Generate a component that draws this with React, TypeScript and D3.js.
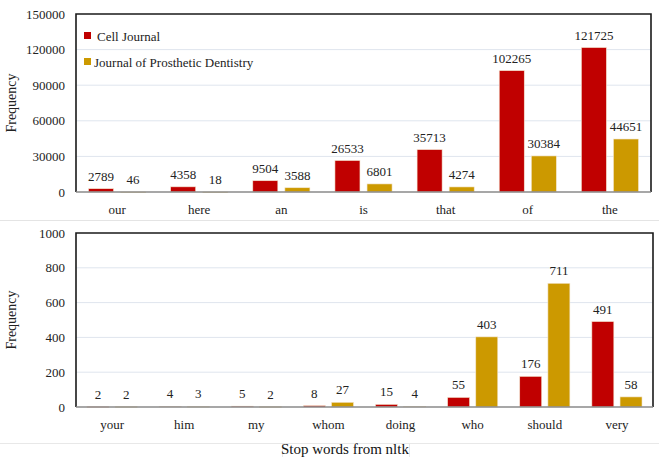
import * as React from "react";
import * as d3 from "d3";

// top panel
const topWords = ["our", "here", "an", "is", "that", "of", "the"];
const topCell = [2789, 4358, 9504, 26533, 35713, 102265, 121725];
const topDent = [46, 18, 3588, 6801, 4274, 30384, 44651];
const topTicks = [0, 30000, 60000, 90000, 120000, 150000];

// bottom panel
const botWords = ["your", "him", "my", "whom", "doing", "who", "should", "very"];
const botCell = [2, 4, 5, 8, 15, 55, 176, 491];
const botDent = [2, 3, 2, 27, 4, 403, 711, 58];
const botTicks = [0, 200, 400, 600, 800, 1000];

const seriesNames = ["Cell Journal", "Journal of Prosthetic Dentistry"];
const colors = ["#c00000", "#cc9900"];

const FONT = "'Liberation Serif', 'Times New Roman', serif";

interface PanelProps {
    words: string[];
    a: number[];
    b: number[];
    ticks: number[];
    left: number;
    top: number;
    right: number;
    bottom: number;
    legend?: boolean;
}

function Panel(props: PanelProps) {
    const { words, a, b, ticks, left, top, right, bottom, legend } = props;
    const x = d3.scaleBand<string>().domain(words).range([left, right]).padding(0);
    const xs = d3.scaleBand<string>().domain(["a", "b"]).range([0, x.bandwidth()])
        .paddingInner(0.22).paddingOuter(0.39);
    const y = d3.scaleLinear().domain([0, ticks[ticks.length - 1]]).range([bottom, top]);

    const bars: any[] = [];
    words.forEach((w, i) => {
        [a[i], b[i]].forEach((v, k) => {
            const bx = (x(w) as number) + (xs(k === 0 ? "a" : "b") as number);
            bars.push({ key: w + k, x: bx, y: y(v), h: y(0) - y(v), v, k });
        });
    });

    return (
        <g>
            {ticks.slice(1, -1).map(t => (
                <line key={"g" + t} x1={left} x2={right} y1={y(t)} y2={y(t)} stroke="#dfe5ee" strokeWidth={1} />
            ))}
            {ticks.map(t => (
                <text key={"t" + t} x={left - 11} y={y(t)} dy="0.35em" textAnchor="end" fontSize={13} fontFamily={FONT} fill="#222">{t}</text>
            ))}
            {bars.map(d => (
                <rect key={d.key} x={d.x} y={d.y} width={xs.bandwidth()} height={Math.max(d.h, 0.6)}
                    fill={colors[d.k]} stroke="#f3e6d0" strokeWidth={0.6} />
            ))}
            {bars.map(d => (
                <text key={"l" + d.key} x={d.x + xs.bandwidth() / 2} y={d.y - 8} textAnchor="middle"
                    fontSize={13} fontFamily={FONT} fill="#222">{d.v}</text>
            ))}
            {words.map(w => (
                <text key={"x" + w} x={(x(w) as number) + x.bandwidth() / 2} y={bottom + 22} textAnchor="middle"
                    fontSize={13} fontFamily={FONT} fill="#222">{w}</text>
            ))}
            <path d={`M${left},${bottom}V${top}H${right}V${bottom}`} fill="none" stroke="#1a1a1a" strokeWidth={1.6} />
            <line x1={left} x2={right} y1={bottom} y2={bottom} stroke="#8a8a8a" strokeWidth={1.6} />
            <text transform={`translate(${left - 60},${(top + bottom) / 2}) rotate(-90)`} textAnchor="middle"
                fontSize={14} fontFamily={FONT} fill="#222">Frequency</text>
            {legend && seriesNames.map((s, i) => (
                <g key={s} transform={`translate(${left + 8},${top + 22 + i * 26})`}>
                    <rect x={0} y={-4} width={7} height={7} fill={colors[i]} />
                    <text x={i === 0 ? 13 : 10} y={0} dy="0.35em" fontSize={13} fontFamily={FONT} fill="#222">{s}</text>
                </g>
            ))}
        </g>
    );
}

export default function App() {
    return (
        <div style={{ position: "absolute", left: 0, top: 0 }}>
            <svg width={659} height={457} style={{ display: "block", background: "#fff" }}>
                <Panel words={topWords} a={topCell} b={topDent} ticks={topTicks}
                    left={76} top={14} right={651} bottom={192} legend />
                <line x1={0} x2={659} y1={220.5} y2={220.5} stroke="#e4e4e4" strokeWidth={1} />
                <Panel words={botWords} a={botCell} b={botDent} ticks={botTicks}
                    left={76} top={233} right={653} bottom={407} />
                <line x1={0} x2={659} y1={443.5} y2={443.5} stroke="#e8e8e8" strokeWidth={1} />
                <line x1={282.5} x2={282.5} y1={443} y2={457} stroke="#e8e8e8" strokeWidth={1} />
                <line x1={409.5} x2={409.5} y1={443} y2={457} stroke="#e8e8e8" strokeWidth={1} />
                <text x={345} y={454} textAnchor="middle" fontSize={15} fontFamily={FONT} fill="#111">Stop words from nltk</text>
            </svg>
        </div>
    );
}
